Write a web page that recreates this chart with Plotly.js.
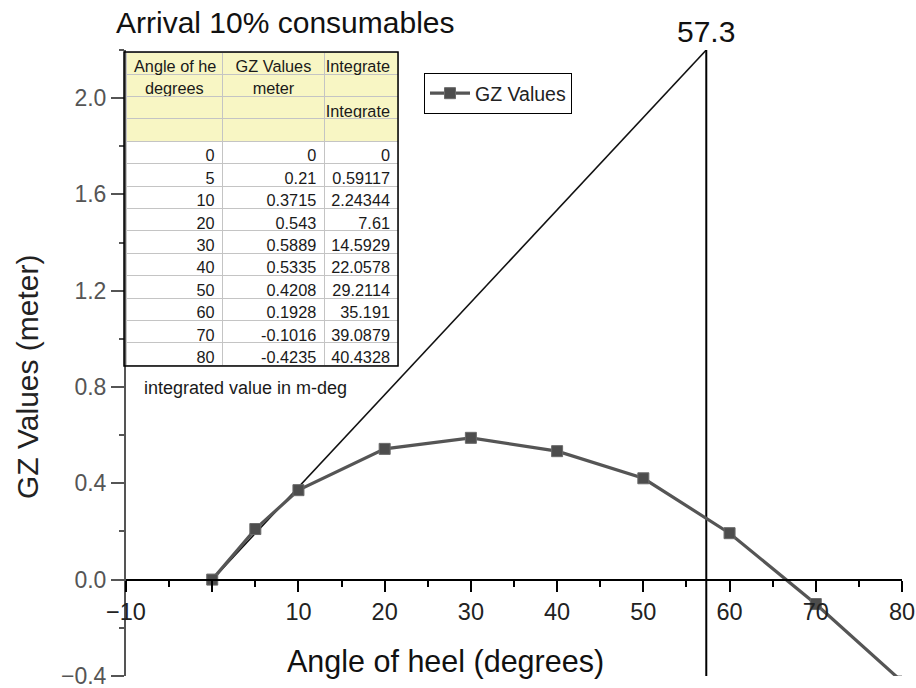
<!DOCTYPE html>
<html>
<head>
<meta charset="utf-8">
<script src="https://cdn.plot.ly/plotly-3.0.1.min.js"></script>
<style>html,body{margin:0;padding:0;background:#fff;}#chart{width:916px;height:688px;}</style>
</head>
<body>
<div id="chart"></div>
<script>
// ---- data ----
const angles = [0, 5, 10, 20, 30, 40, 50, 60, 70, 80];
const gzValues = [0, 0.21, 0.3715, 0.543, 0.5889, 0.5335, 0.4208, 0.1928, -0.1016, -0.4235];
const integrated = [0, 0.59117, 2.24344, 7.61, 14.5929, 22.0578, 29.2114, 35.191, 39.0879, 40.4328];
const tangentX = [0, 57.3];
const tangentY = [0, 2.2];
const markerAngle = 57.3;
const xTickVals = [-10, 0, 10, 20, 30, 40, 50, 60, 70, 80];
const xTickText = ['\u221210', '', '10', '20', '30', '40', '50', '60', '70', '80'];
const yTickVals = [-0.4, 0, 0.4, 0.8, 1.2, 1.6, 2.0];
const yTickText = ['\u22120.4', '0.0', '0.4', '0.8', '1.2', '1.6', '2.0'];
const tableHeader = ['Angle of he', 'GZ Values', 'Integrate'];
const tableSubRows = [['degrees', 'meter', ''], ['', '', 'Integrate'], ['', '', '']];

const xRange = [-10, 80];
const yRange = [-0.4005, 2.2];
const FONT = 'Liberation Sans, Arial, sans-serif';
const nb = s => s.replace(/ /g, '\u00a0');

// table columns
const col1 = tableSubRows.map(r => r[0]).concat(angles.map(String));
const col2 = tableSubRows.map(r => r[1]).concat(gzValues.map(String));
const col3 = tableSubRows.map(r => r[2]).concat(integrated.map(String));
const nRows = col1.length;
const rowFill = [];
for (let i = 0; i < nRows; i++) rowFill.push(i < tableSubRows.length ? '#f8f6c4' : '#ffffff');
const al1 = [], al2 = [], al3 = [];
for (let i = 0; i < nRows; i++) {
  al1.push(i < tableSubRows.length ? 'center' : 'right');
  al2.push(i < tableSubRows.length ? 'center' : 'right');
  al3.push('right');
}

// pixel helpers for paper coords (plot area 126..902 x 50..676)
const L = 126, R = 14, T = 50, B = 12, W = 916, H = 688;
const pw = W - L - R, ph = H - T - B;
const px = x => (x - L) / pw;
const py = y => (H - B - y) / ph;

const traces = [
  {
    type: 'scatter', mode: 'lines', x: tangentX, y: tangentY,
    line: {color: '#111', width: 1.6}, showlegend: false, hoverinfo: 'skip'
  },
  {
    type: 'scatter', mode: 'lines', x: [markerAngle, markerAngle], y: yRange,
    line: {color: '#000', width: 2}, showlegend: false, hoverinfo: 'skip'
  },
  {
    type: 'scatter', mode: 'lines+markers', name: 'GZ Values', x: angles, y: gzValues,
    line: {color: '#555555', width: 3.2},
    marker: {symbol: 'square', size: 11, color: '#4d4d4d', line: {color: '#6a6a6a', width: 1}},
    cliponaxis: true
  },
  {
    type: 'table',
    domain: {x: [0, px(398)], y: [py(372), py(52)]},
    columnwidth: [97, 102, 74],
    header: {
      values: tableHeader.map(nb),
      height: 22,
      align: ['left', 'center', 'right'],
      fill: {color: '#f8f6c4'},
      line: {color: '#c4c4c4', width: 1},
      font: {family: FONT, size: 16.3, color: '#1a1a1a'}
    },
    cells: {
      values: [col1.map(nb), col2.map(nb), col3.map(nb)],
      height: 22.4,
      align: [al1, al2, al3],
      fill: {color: [rowFill]},
      line: {color: '#c4c4c4', width: 1},
      font: {family: FONT, size: 16.3, color: '#1a1a1a'}
    }
  }
];

const layout = {
  width: W, height: H,
  margin: {l: L, r: R, t: T, b: B, pad: 0},
  paper_bgcolor: '#ffffff', plot_bgcolor: '#ffffff',
  font: {family: FONT, color: '#222'},
  title: {
    text: 'Arrival 10% consumables',
    font: {family: FONT, size: 30, color: '#111'},
    xref: 'container', x: 116 / W, xanchor: 'left',
    yref: 'container', y: 1 - 22 / H, yanchor: 'middle'
  },
  showlegend: true,
  legend: {
    x: px(424), y: py(73), xanchor: 'left', yanchor: 'top',
    bgcolor: '#ffffff', bordercolor: '#000', borderwidth: 1,
    font: {family: FONT, size: 19.5, color: '#222'},
    itemwidth: 40, tracegroupgap: 0
  },
  xaxis: {
    range: xRange, anchor: 'free',
    position: (0 - yRange[0]) / (yRange[1] - yRange[0]),
    tickmode: 'array', tickvals: xTickVals, ticktext: xTickText,
    ticks: 'outside', ticklen: 11, tickwidth: 2, tickcolor: '#000',
    minor: {dtick: 5, tick0: 0, ticks: 'outside', ticklen: 6, tickwidth: 2, tickcolor: '#000', showgrid: false},
    showline: true, linecolor: '#000', linewidth: 2,
    showgrid: false, zeroline: false,
    tickfont: {family: FONT, size: 23.5, color: '#222'}
  },
  xaxis2: {
    range: xRange, overlaying: 'x', side: 'top', anchor: 'y', matches: 'x',
    tickmode: 'linear', tick0: 0, dtick: 10,
    ticks: 'inside', ticklen: 12, tickwidth: 2, tickcolor: '#000',
    minor: {dtick: 5, tick0: 0, ticks: 'inside', ticklen: 6, tickwidth: 2, tickcolor: '#000', showgrid: false},
    showline: true, linecolor: '#000', linewidth: 2,
    showticklabels: false, showgrid: false, zeroline: false
  },
  yaxis: {
    range: yRange, anchor: 'x',
    tickmode: 'array', tickvals: yTickVals, ticktext: yTickText,
    ticks: 'outside', ticklen: 13, tickwidth: 2, tickcolor: '#555',
    minor: {dtick: 0.2, tick0: 0, ticks: 'outside', ticklen: 5, tickwidth: 2, tickcolor: '#555', showgrid: false},
    showline: true, linecolor: '#555', linewidth: 2,
    showgrid: false, zeroline: false,
    ticklabeloverflow: 'allow',
    tickfont: {family: FONT, size: 23, color: '#555'}
  },
  yaxis2: {
    range: [0, 12], overlaying: 'y', side: 'right', anchor: 'x',
    tickmode: 'linear', tick0: 1, dtick: 2,
    ticks: 'outside', ticklen: 10, tickwidth: 2, tickcolor: '#000',
    minor: {dtick: 1, tick0: 0, ticks: 'outside', ticklen: 4, tickwidth: 2, tickcolor: '#000', showgrid: false},
    showline: true, linecolor: '#000', linewidth: 2,
    showticklabels: false, showgrid: false, zeroline: false
  },
  shapes: [
    {type: 'rect', xref: 'paper', yref: 'paper', x0: px(124), x1: px(398), y0: py(366), y1: py(52),
     line: {color: '#000', width: 1.5}, fillcolor: 'rgba(0,0,0,0)', layer: 'above'}
  ],
  annotations: [
    {text: String(markerAngle), xref: 'x', x: markerAngle, yref: 'paper', y: 1, yanchor: 'bottom', yshift: 0,
     showarrow: false, font: {family: FONT, size: 30, color: '#111'}},
    {text: 'Angle of heel (degrees)', xref: 'paper', x: px(445), yref: 'paper', y: py(661),
     xanchor: 'center', yanchor: 'middle', showarrow: false, font: {family: FONT, size: 30.5, color: '#111'}},
    {text: 'GZ Values (meter)', xref: 'paper', x: px(27), yref: 'paper', y: py(377), textangle: -90,
     xanchor: 'center', yanchor: 'middle', showarrow: false, font: {family: FONT, size: 30, color: '#222'}},
    {text: 'integrated value in m-deg', xref: 'paper', x: px(142), yref: 'paper', y: py(388),
     xanchor: 'left', yanchor: 'middle', showarrow: false, font: {family: FONT, size: 18, color: '#1a1a1a'}}
  ]
};

Plotly.newPlot('chart', traces, layout, {displayModeBar: false, staticPlot: true});
</script>
</body>
</html>
